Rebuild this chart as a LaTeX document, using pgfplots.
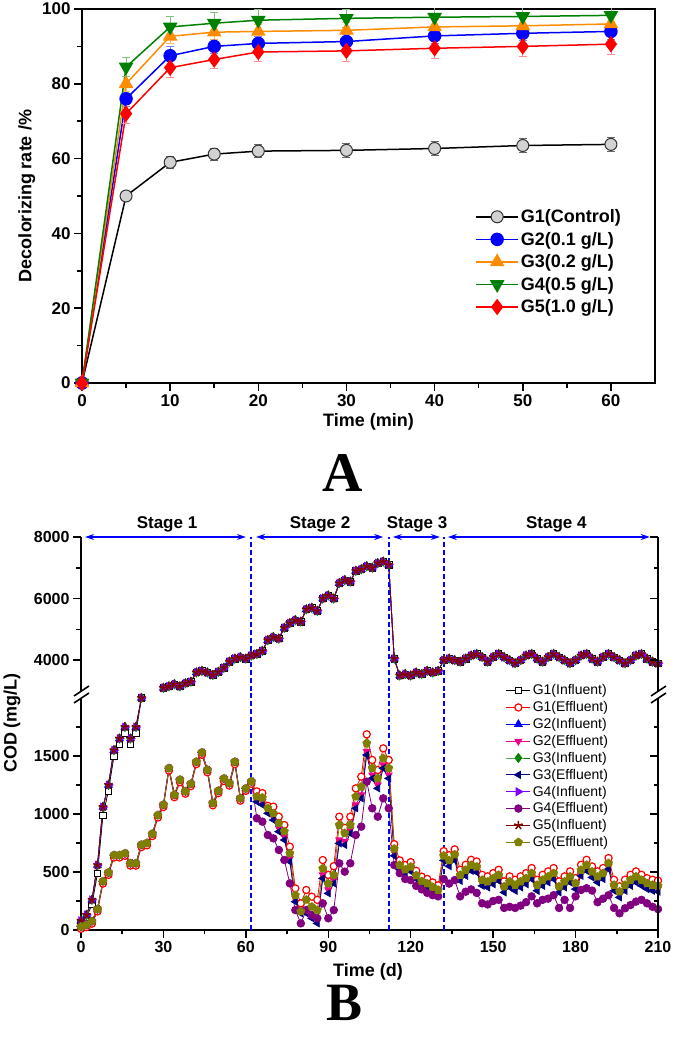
\documentclass[border=0pt]{standalone}
\usepackage{fontspec}
\setmainfont{Liberation Sans}
\newfontfamily\timesfont{Liberation Serif}
\usepackage{pgfplots}
\pgfplotsset{compat=1.18}
\usepackage{pgfplotstable}
\usetikzlibrary{arrows.meta,plotmarks}

\definecolor{cOrange}{RGB}{255,140,0}
\definecolor{cGreen}{RGB}{0,128,0}
\definecolor{cGray}{RGB}{210,210,210}
\definecolor{cNavy}{RGB}{0,0,128}
\definecolor{cViolet}{RGB}{128,0,255}
\definecolor{cPurple}{RGB}{128,0,128}
\definecolor{cMaroon}{RGB}{128,0,0}
\definecolor{cOlive}{RGB}{128,128,0}
\definecolor{cDash}{RGB}{0,0,255}

\tikzset{vdash/.style={draw=cDash, line width=2pt, dash pattern=on 5pt off 3pt}}

\pgfplotstableread{
day inf g1inf
0 80 60
2 130 110
4 260 220
6 560 490
8 1060 990
10 1250 1200
12 1550 1500
14 1650 1600
16 1750 1700
18 1650 1600
20 1750 1700
22 2000 2000
}\infLow

\pgfplotstableread{
day inf
30 3100
32 3150
34 3220
36 3150
38 3250
40 3300
42 3600
44 3650
46 3600
48 3520
50 3620
52 3750
54 3950
56 4050
58 4100
60 4050
62 4150
64 4200
66 4300
68 4650
70 4750
72 4700
74 5050
76 5200
78 5300
80 5250
82 5650
84 5700
86 5600
88 6000
90 6100
92 6000
94 6500
96 6600
98 6550
100 6900
102 6950
104 7050
106 7000
108 7150
110 7200
112 7100
114 4050
116 3500
118 3550
120 3500
122 3600
124 3550
126 3650
128 3600
130 3650
132 4000
134 4050
136 4000
138 3950
140 4050
142 4150
144 4200
146 4100
148 3950
150 4100
152 4200
154 4100
156 4000
158 3900
160 4000
162 4150
164 4200
166 4050
168 3950
170 4100
172 4200
174 4100
176 4000
178 3900
180 4000
182 4150
184 4200
186 4050
188 3950
190 4100
192 4200
194 4100
196 4000
198 3900
200 4000
202 4150
204 4200
206 4050
208 3950
210 3900
}\infHigh

\pgfplotstableread{
day g1 g2 g3 g4 g5
0 10 30 30 30 30
2 25 45 45 45 45
4 55 75 75 75 75
6 160 180 180 180 180
8 400 420 420 420 420
10 475 495 495 495 495
12 625 645 645 645 645
14 625 645 645 645 645
16 640 660 660 660 660
18 555 575 575 575 575
20 555 575 575 575 575
22 715 735 735 735 735
24 730 750 750 750 750
26 810 830 830 830 830
28 970 990 990 990 990
30 1060 1080 1080 1080 1080
32 1375 1395 1395 1395 1395
34 1145 1165 1165 1165 1165
36 1275 1295 1295 1295 1295
38 1175 1195 1195 1195 1195
40 1240 1260 1260 1260 1260
42 1430 1450 1450 1450 1450
44 1510 1530 1530 1530 1530
46 1360 1380 1380 1380 1380
48 1075 1095 1095 1095 1095
50 1180 1200 1200 1200 1200
52 1285 1305 1305 1305 1305
54 1245 1265 1265 1265 1265
56 1430 1450 1450 1450 1450
58 1115 1135 1135 1135 1135
60 1200 1220 1220 1220 1220
62 1260 1280 1280 1280 1280
64 1195 1136 1106 963 1150
66 1180 1108 1078 934 1140
68 1070 1036 1006 819 1050
70 1063 978 948 790 1005
72 977 878 848 690 920
74 905 806 776 603 850
76 718 619 589 402 660
78 359 274 244 172 300
80 230 174 144 57 160
82 345 174 144 172 260
84 287 131 101 129 200
86 260 87 57 101 170
88 603 475 445 230 530
90 475 346 316 101 400
92 550 432 402 172 475
94 977 777 747 575 905
96 880 763 733 503 835
98 977 863 833 575 905
100 1221 1079 1049 819 1150
102 1322 1165 1135 891 1235
104 1687 1539 1509 1279 1610
106 1466 1337 1307 1049 1395
108 1379 1251 1221 977 1307
110 1566 1424 1394 1135 1480
112 1466 1337 1307 1049 1395
114 740 670 640 560 700
116 600 550 520 490 560
118 560 510 480 440 520
120 585 535 505 430 545
122 510 470 440 380 470
124 460 420 390 350 420
126 440 400 370 320 400
128 410 370 340 300 370
130 385 350 320 290 345
132 680 620 600 440 640
134 645 575 550 400 600
136 695 625 600 430 650
138 519 449 424 290 474
140 562 492 467 330 517
142 605 535 510 350 560
144 591 521 496 320 546
146 476 406 381 230 431
148 462 392 367 220 417
150 490 420 395 250 445
152 519 449 424 260 474
154 419 349 324 190 374
156 462 392 367 200 417
158 433 363 338 190 388
160 462 392 367 210 417
162 490 420 395 240 445
164 534 464 439 290 489
166 433 363 338 230 388
168 476 406 381 260 431
170 505 435 410 270 460
172 534 464 439 300 489
174 419 349 324 190 374
176 462 392 367 260 417
178 505 435 410 190 460
180 447 377 352 290 402
182 562 492 467 345 517
184 605 535 510 360 560
186 548 478 453 340 503
188 505 435 410 240 460
190 534 464 439 270 489
192 620 550 525 300 575
194 433 363 338 190 388
196 376 306 281 144 331
198 433 363 338 187 388
200 476 406 381 215 431
202 505 435 410 245 460
204 476 406 381 260 431
206 447 377 352 230 402
208 433 363 338 200 388
210 425 355 330 180 380
}\eff

\pgfplotsset{
  g1i/.style={black, line width=0.8pt, mark=square*, mark size=3.2pt, mark options={fill=white, draw=black, line width=0.7pt}},
  g1e/.style={red, line width=0.8pt, mark=*, mark size=3.6pt, mark options={fill=white, draw=red, line width=1.2pt}},
  g2i/.style={blue, line width=0.8pt, mark=triangle*, mark size=4.5pt, mark options={fill=blue, draw=blue}},
  g2e/.style={magenta, line width=0.8pt, mark=triangle*, mark size=4pt, mark options={rotate=180, fill=magenta, draw=magenta}},
  g3i/.style={cGreen, line width=0.8pt, mark=diamond*, mark size=4.5pt, mark options={fill=cGreen, draw=cGreen}},
  g3e/.style={cNavy, line width=0.8pt, mark=triangle*, mark size=4pt, mark options={rotate=90, fill=cNavy, draw=cNavy}},
  g4i/.style={cViolet, line width=0.8pt, mark=triangle*, mark size=4.5pt, mark options={rotate=-90, fill=cViolet, draw=cViolet}},
  g4e/.style={cPurple, line width=0.8pt, mark=*, mark size=3.8pt, mark options={fill=cPurple, draw=cPurple}},
  g5i/.style={cMaroon, line width=0.8pt, mark=star, mark size=4.5pt, mark options={draw=cMaroon, line width=1.5pt}},
  g5e/.style={cOlive, line width=0.8pt, mark=pentagon*, mark size=4.2pt, mark options={fill=cOlive, draw=cOlive}},
  bstyle/.style={
    scale only axis, anchor=south west, width=577pt,
    xmin=0, xmax=210, clip=false,
    tick align=outside, major tick length=8pt, minor tick length=4.5pt,
    tick style={line width=1.5pt, black},
    axis line style={line width=2pt},
    ticklabel style={font=\fontsize{16}{18}\selectfont\bfseries},
    /pgf/number format/assume math mode=true,
    /pgf/number format/1000 sep={},
    scaled ticks=false,
  },
}

\begin{document}
\begin{tikzpicture}
\useasboundingbox (0pt,0pt) rectangle (675pt,1037pt);

% ---------------- Panel A ----------------
\begin{axis}[
  at={(82pt,654pt)}, anchor=south west, scale only axis,
  width=573pt, height=374pt,
  xmin=0, xmax=65, ymin=0, ymax=100,
  xtick={0,10,...,60}, minor x tick num=1,
  ytick={0,20,...,100}, minor y tick num=1,
  xtick pos=bottom, ytick pos=left,
  tick align=outside, major tick length=8pt, minor tick length=5pt,
  tick style={line width=1.5pt, black},
  axis line style={line width=2pt},
  ticklabel style={font=\fontsize{17}{20}\selectfont\bfseries},
  /pgf/number format/assume math mode=true,
  xlabel={Time (min)}, ylabel={Decolorizing rate /\%},
  label style={font=\fontsize{18}{20}\selectfont\bfseries},
  legend style={at={(rel axis cs:0.681,0.475)}, anchor=north west, draw=none, fill=none,
    font=\fontsize{18}{21}\selectfont\bfseries, row sep=4pt},
  legend cell align=left,
  legend image code/.code={\draw[mark repeat=2,mark phase=2] plot coordinates {(0pt,0pt) (21pt,0pt) (42pt,0pt)};},
]
\addplot[black, line width=1.5pt, mark=*, mark size=6pt, mark options={fill=cGray, draw=black!80, line width=1pt},
  error bars/.cd, y dir=both, y explicit, error bar style={line width=0.8pt, black!60},
  error mark options={rotate=90, mark size=4pt, black!60, line width=0.8pt}]
  coordinates {(0,0) +- (0,0) (5,50) +- (0,1) (10,59) +- (0,1.6) (15,61.2) +- (0,1.6) (20,62) +- (0,1.8)
  (30,62.2) +- (0,1.8) (40,62.7) +- (0,1.8) (50,63.5) +- (0,1.8) (60,63.8) +- (0,1.8)};
\addlegendentry{G1(Control)}
\addplot[blue, line width=1.5pt, mark=*, mark size=6pt, mark options={fill=blue, draw=blue},
  error bars/.cd, y dir=both, y explicit, error bar style={line width=0.8pt, blue!50},
  error mark options={rotate=90, mark size=4pt, blue!50, line width=0.8pt}]
  coordinates {(0,0) +- (0,0) (5,76) +- (0,2) (10,87.5) +- (0,2.5) (15,90) +- (0,2) (20,90.8) +- (0,2)
  (30,91.3) +- (0,2) (40,92.8) +- (0,2) (50,93.5) +- (0,2) (60,94) +- (0,2)};
\addlegendentry{G2(0.1 g/L)}
\addplot[cOrange, line width=1.5pt, mark=triangle*, mark size=7pt, mark options={fill=cOrange, draw=cOrange},
  error bars/.cd, y dir=both, y explicit, error bar style={line width=0.8pt, cOrange!60},
  error mark options={rotate=90, mark size=4pt, cOrange!60, line width=0.8pt}]
  coordinates {(0,0) +- (0,0) (5,80) +- (0,2) (10,92.7) +- (0,2) (15,93.8) +- (0,2) (20,94) +- (0,2)
  (30,94.3) +- (0,2) (40,95.2) +- (0,2) (50,95.5) +- (0,2) (60,96) +- (0,2)};
\addlegendentry{G3(0.2 g/L)}
\addplot[cGreen, line width=1.5pt, mark=triangle*, mark size=7pt, mark options={rotate=180, fill=cGreen, draw=cGreen},
  error bars/.cd, y dir=both, y explicit, error bar style={line width=0.8pt, cGreen!50},
  error mark options={rotate=90, mark size=4pt, cGreen!50, line width=0.8pt}]
  coordinates {(0,0) +- (0,0) (5,84.5) +- (0,2.5) (10,95.2) +- (0,2.8) (15,96.2) +- (0,2.8) (20,97) +- (0,2.8)
  (30,97.5) +- (0,2.5) (40,97.8) +- (0,2.5) (50,98) +- (0,2.5) (60,98.3) +- (0,2.5)};
\addlegendentry{G4(0.5 g/L)}
\addplot[red, line width=1.5pt, mark=diamond*, mark size=7pt, mark options={fill=red, draw=red},
  error bars/.cd, y dir=both, y explicit, error bar style={line width=0.8pt, red!45},
  error mark options={rotate=90, mark size=4pt, red!45, line width=0.8pt}]
  coordinates {(0,0) +- (0,0) (5,72) +- (0,2.5) (10,84.3) +- (0,2.5) (15,86.5) +- (0,2.5) (20,88.5) +- (0,2.5)
  (30,88.8) +- (0,2.8) (40,89.5) +- (0,2.8) (50,90) +- (0,2.8) (60,90.6) +- (0,2.8)};
\addlegendentry{G5(1.0 g/L)}
\end{axis}

\node[font=\timesfont\bfseries\fontsize{56}{58}\selectfont] at (343pt,564pt) {A};
\node[font=\timesfont\bfseries\fontsize{54}{56}\selectfont, inner sep=0pt] at (345pt,34pt) {B};

% ---------------- Panel B upper ----------------
\begin{axis}[bstyle,
  at={(81pt,346pt)}, height=154pt,
  ymin=3000, ymax=8000,
  axis x line=none, axis y line*=left,
  ytick={4000,6000,8000}, minor ytick={5000,7000},
]
\addplot[g1i] table[x=day,y=inf]{\infHigh};
\addplot[g2i] table[x=day,y=inf]{\infHigh};
\addplot[g3i] table[x=day,y=inf]{\infHigh};
\addplot[g4i] table[x=day,y=inf]{\infHigh};
\addplot[g5i] table[x=day,y=inf]{\infHigh};
\draw[vdash] (axis cs:62,3000) -- (axis cs:62,8000);
\draw[vdash] (axis cs:112,3000) -- (axis cs:112,8000);
\draw[vdash] (axis cs:132,3000) -- (axis cs:132,8000);
\draw[blue, line width=1.3pt, {Stealth[length=9pt,width=6pt]}-{Stealth[length=9pt,width=6pt]}] (axis cs:1.5,8000) -- (axis cs:60,8000);
\draw[blue, line width=1.3pt, {Stealth[length=9pt,width=6pt]}-{Stealth[length=9pt,width=6pt]}] (axis cs:63.7,8000) -- (axis cs:110,8000);
\draw[blue, line width=1.3pt, {Stealth[length=9pt,width=6pt]}-{Stealth[length=9pt,width=6pt]}] (axis cs:113.5,8000) -- (axis cs:130.6,8000);
\draw[blue, line width=1.3pt, {Stealth[length=9pt,width=6pt]}-{Stealth[length=9pt,width=6pt]}] (axis cs:133.5,8000) -- (axis cs:207,8000);
\node[anchor=base, yshift=8pt, font=\fontsize{17}{19}\selectfont\bfseries] at (axis cs:31.3,8000) {Stage 1};
\node[anchor=base, yshift=8pt, font=\fontsize{17}{19}\selectfont\bfseries] at (axis cs:87,8000) {Stage 2};
\node[anchor=base, yshift=8pt, font=\fontsize{17}{19}\selectfont\bfseries] at (axis cs:122.3,8000) {Stage 3};
\node[anchor=base, yshift=8pt, font=\fontsize{17}{19}\selectfont\bfseries] at (axis cs:173,8000) {Stage 4};
\end{axis}
\begin{axis}[bstyle,
  at={(81pt,346pt)}, height=154pt,
  ymin=3000, ymax=8000,
  axis x line=none, axis y line*=right, tick align=inside,
  ytick={4000,6000,8000}, minor ytick={5000,7000}, yticklabels={},
]
\end{axis}

% ---------------- Panel B lower ----------------
\begin{axis}[bstyle,
  at={(81pt,107pt)}, height=232pt,
  ymin=0, ymax=2000,
  axis x line*=bottom, axis y line*=left,
  xtick={0,30,...,210}, minor x tick num=1,
  ytick={0,500,1000,1500}, minor ytick={250,750,1250,1750},
  legend style={at={(rel axis cs:0.731,1.075)}, anchor=north west, draw=none, fill=none,
    font=\fontsize{14}{15}\selectfont, row sep=1.2pt},
  legend cell align=left,
  legend image code/.code={\draw[mark repeat=2,mark phase=2] plot coordinates {(0pt,0pt) (12pt,0pt) (24pt,0pt)};},
]
\addplot[g1i] table[x=day,y=g1inf]{\infLow};
\addlegendentry{G1(Influent)}
\addplot[g1e] table[x=day,y=g1]{\eff};
\addlegendentry{G1(Effluent)}
\addplot[g2i] table[x=day,y=inf]{\infLow};
\addlegendentry{G2(Influent)}
\addplot[g2e] table[x=day,y=g2]{\eff};
\addlegendentry{G2(Effluent)}
\addplot[g3i] table[x=day,y=inf]{\infLow};
\addlegendentry{G3(Influent)}
\addplot[g3e] table[x=day,y=g3]{\eff};
\addlegendentry{G3(Effluent)}
\addplot[g4i] table[x=day,y=inf]{\infLow};
\addlegendentry{G4(Influent)}
\addplot[g4e] table[x=day,y=g4]{\eff};
\addlegendentry{G4(Effluent)}
\addplot[g5i] table[x=day,y=inf]{\infLow};
\addlegendentry{G5(Influent)}
\addplot[g5e] table[x=day,y=g5]{\eff};
\addlegendentry{G5(Effluent)}
\draw[vdash] (axis cs:62,0) -- (axis cs:62,2060);
\draw[vdash] (axis cs:112,0) -- (axis cs:112,2060);
\draw[vdash] (axis cs:132,0) -- (axis cs:132,2060);
\end{axis}
\begin{axis}[bstyle,
  at={(81pt,107pt)}, height=232pt,
  ymin=0, ymax=2000,
  axis x line=none, axis y line*=right, tick align=inside,
  ytick={0,500,1000,1500}, minor ytick={250,750,1250,1750}, yticklabels={},
]
\end{axis}

% axis breaks
\foreach \xx in {81,658}{
  \draw[line width=1.6pt] (\xx pt-7pt,341pt) -- (\xx pt+8pt,351pt);
  \draw[line width=1.6pt] (\xx pt-7pt,334pt) -- (\xx pt+8pt,344pt);
}
\node[rotate=90, font=\fontsize{18}{20}\selectfont\bfseries] at (12pt,314pt) {COD (mg/L)};
\node[font=\fontsize{18}{20}\selectfont\bfseries] at (368pt,65pt) {Time (d)};
\end{tikzpicture}
\end{document}
